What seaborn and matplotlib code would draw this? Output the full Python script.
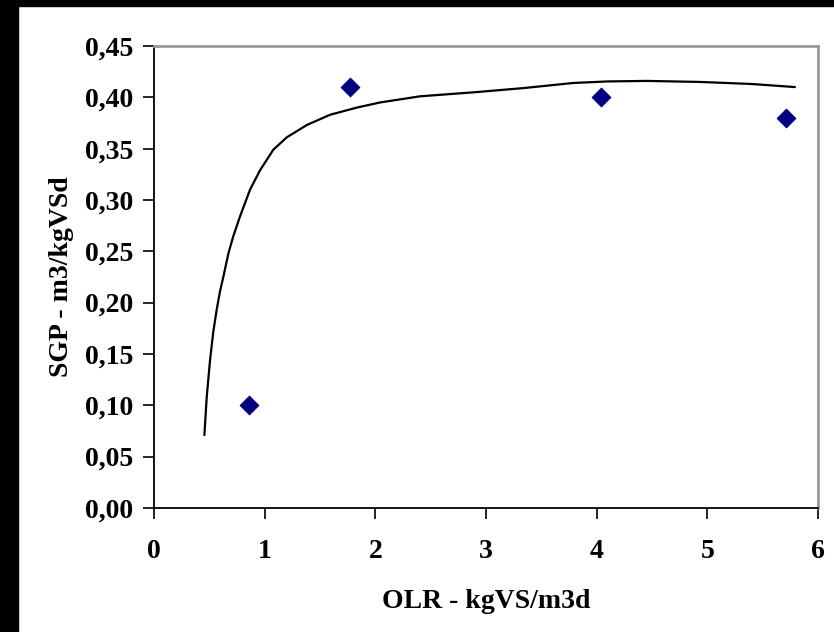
"""Scatter of SGP against OLR with the fitted trend curve."""

import matplotlib.pyplot as plt
import pandas as pd
import seaborn as sns
from matplotlib.patches import Rectangle
from matplotlib.ticker import FuncFormatter, MultipleLocator

# Measured points
olr = [0.86, 1.77, 4.04, 5.71]
sgp = [0.10, 0.41, 0.40, 0.38]

# Trend line
curve_olr = [0.455, 0.476, 0.506, 0.536, 0.566, 0.596, 0.626, 0.672, 0.714,
             0.777, 0.867, 0.958, 1.078, 1.199, 1.38, 1.59, 1.832, 2.042,
             2.223, 2.404, 2.9, 3.337, 3.789, 4.1, 4.452, 4.934, 5.4, 5.792]
curve_sgp = [0.071, 0.108, 0.144, 0.172, 0.193, 0.211, 0.225, 0.248, 0.264,
             0.284, 0.310, 0.329, 0.349, 0.361, 0.373, 0.383, 0.390, 0.395,
             0.398, 0.401, 0.405, 0.409, 0.414, 0.4155, 0.416, 0.415, 0.413,
             0.410]

points = pd.DataFrame({"OLR": olr, "SGP": sgp})
curve = pd.DataFrame({"OLR": curve_olr, "SGP": curve_sgp})

sns.set_theme(style="ticks")
plt.rcParams["font.family"] = ["Liberation Serif", "DejaVu Serif"]
plt.rcParams["font.weight"] = "bold"
for key in ["text.color", "axes.labelcolor", "xtick.color", "ytick.color"]:
    plt.rcParams[key] = "black"

fig = plt.figure(figsize=(8.34, 6.32), dpi=100)
ax = fig.add_axes([0.1847, 0.1962, 0.7961, 0.7310])

sns.lineplot(data=curve, x="OLR", y="SGP", ax=ax, color="black", lw=1.6,
             sort=False)
sns.scatterplot(data=points, x="OLR", y="SGP", ax=ax, marker="D", s=90,
                color="#000080", edgecolor="#000080", zorder=3)

ax.set_xlim(0, 6)
ax.set_ylim(0, 0.45)
ax.xaxis.set_major_locator(MultipleLocator(1))
ax.yaxis.set_major_locator(MultipleLocator(0.05))
ax.yaxis.set_major_formatter(
    FuncFormatter(lambda v, _: f"{v:.2f}".replace(".", ","))
)
ax.tick_params(axis="both", labelsize=20, length=8, width=1.2,
               color="black", labelcolor="black", direction="out")
ax.tick_params(axis="x", pad=14)
ax.tick_params(axis="y", pad=7)
for lab in ax.get_xticklabels() + ax.get_yticklabels():
    lab.set_fontweight("bold")

ax.set_xlabel("OLR - kgVS/m3d", fontsize=20, fontweight="bold", labelpad=18)
ax.set_ylabel("SGP - m3/kgVSd", fontsize=20, fontweight="bold", labelpad=8)

for side in ["left", "bottom"]:
    ax.spines[side].set_color("black")
    ax.spines[side].set_linewidth(1.3)
for side in ["top", "right"]:
    ax.spines[side].set_visible(True)
    ax.spines[side].set_color("#999999")
    ax.spines[side].set_linewidth(2)

# Black frame strips on the left and top edges
fig.patches.append(Rectangle((0, 0), 18 / 834, 1, transform=fig.transFigure,
                             color="black", zorder=-1))
fig.patches.append(Rectangle((0, 1 - 6 / 632), 1, 6 / 632,
                             transform=fig.transFigure, color="black",
                             zorder=-1))

fig.savefig("out.png", dpi=100)
